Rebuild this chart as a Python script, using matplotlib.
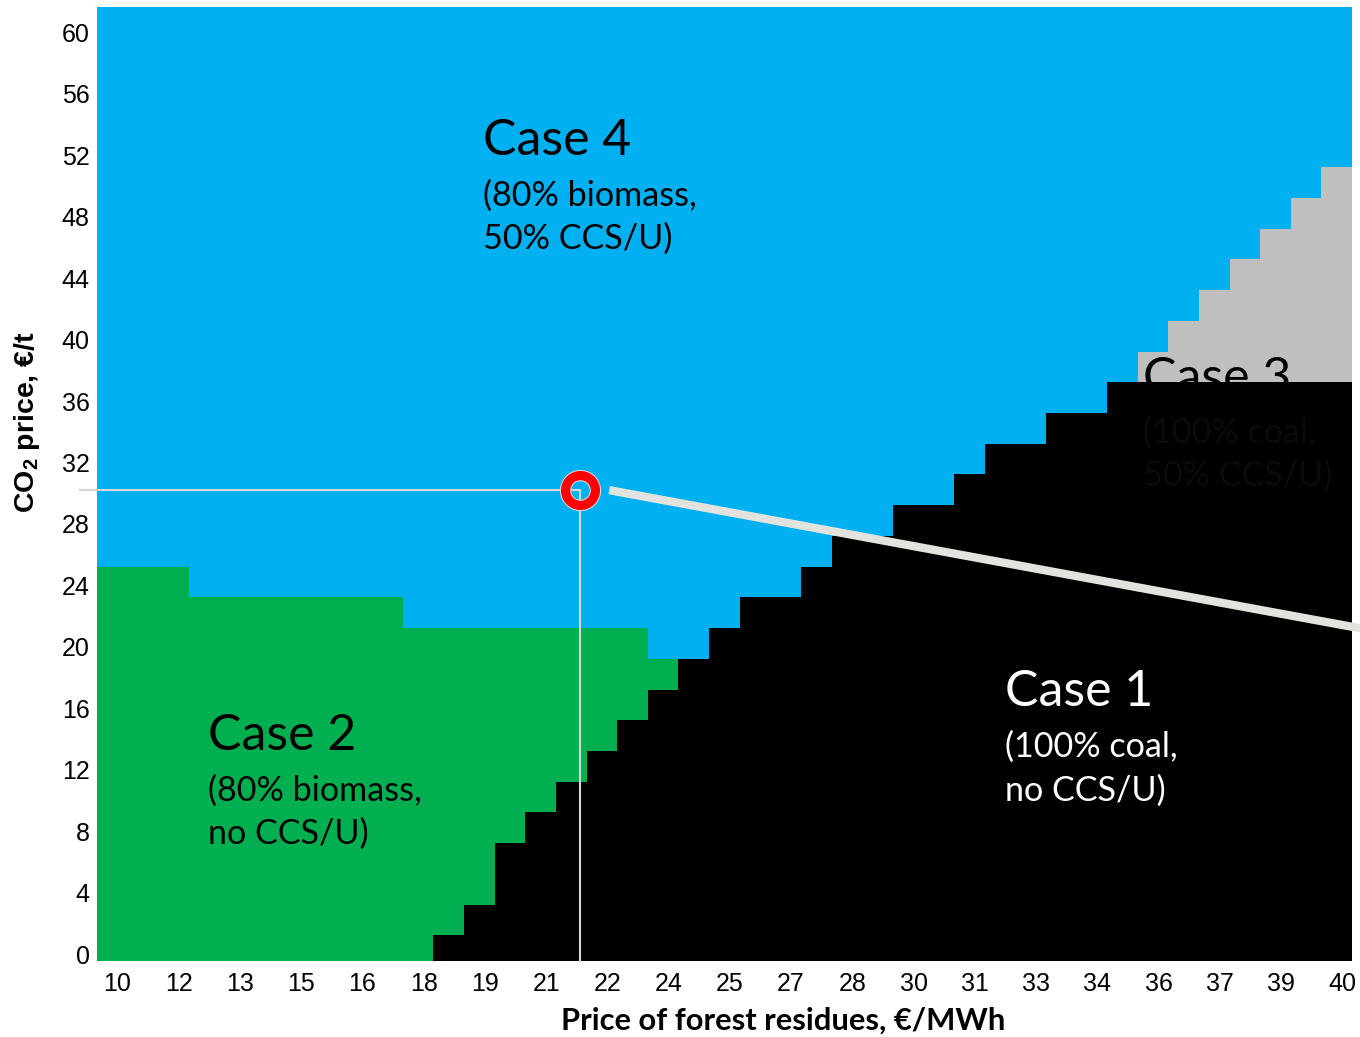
import numpy as np
import matplotlib
matplotlib.use("Agg")
import matplotlib.pyplot as plt
from matplotlib.colors import ListedColormap
from matplotlib.transforms import ScaledTranslation

# price grid of forest residues (EUR/MWh), one column per value
prices = np.linspace(10, 40, 41)
price_ticks = prices[::2]
price_labels = ['10', '12', '13', '15', '16', '18', '19', '21', '22', '24', '25',
                '27', '28', '30', '31', '33', '34', '36', '37', '39', '40']
# CO2 price grid (EUR/t), one row per value
co2 = np.arange(0, 62, 2)
co2_ticks = np.arange(0, 61, 4)

# number of rows (from the bottom) belonging to each case, per column
coal_rows = [0, 0, 0, 0, 0, 0, 0, 0, 0, 0, 0,
             1, 2, 4, 5, 6, 7, 8, 9, 10, 11,
             12, 12, 13, 14, 14, 15, 15, 16, 17, 17,
             18, 18, 19, 19, 19, 19, 19, 19, 19, 19]
biomass_rows = [13, 13, 13, 12, 12, 12, 12, 12, 12, 12,
                11, 11, 11, 11, 11, 11, 11, 11, 10] + [0] * 22
coal_ccs_rows = [0] * 34 + [20, 21, 22, 23, 24, 25, 26]

# current point and the sensitivity line
point_price, point_co2 = 21.47, 30.2
line_price = [22.18, 41.0]
line_co2 = [30.2, 21.0]

blue, green, grey = '#00B0F0', '#00B050', '#BFBFBF'

# build the case matrix: 1 coal, 2 biomass, 3 coal+CCS, 4 biomass+CCS
case = np.full((len(co2), len(prices)), 4)
for j in range(len(prices)):
    case[:coal_ccs_rows[j], j] = 3
    case[:biomass_rows[j], j] = 2
    case[:coal_rows[j], j] = 1

y_bottom, y_top = -0.45, 61.65
x_edges = np.append(prices - 0.375, prices[-1] + 0.375)
y_edges = np.append(co2 - 0.78, y_top)

fig = plt.figure(figsize=(13.6, 10.37), dpi=100)
ax = fig.add_axes([96.7 / 1360, 1 - 961 / 1037, (1352 - 96.7) / 1360, (961 - 7) / 1037])

cmap = ListedColormap(['black', green, grey, blue])
ax.pcolormesh(x_edges, y_edges, case, cmap=cmap, vmin=0.5, vmax=4.5, zorder=1)

# coal layer drawn again on top so it hides the lower part of the Case 3 label
coal_only = np.ma.masked_where(case != 1, case)
ax.pcolormesh(x_edges, y_edges, coal_only, cmap=ListedColormap(['black']),
              vmin=0.5, vmax=1.5, zorder=3)

ax.set_xlim(x_edges[0], x_edges[-1])
ax.set_ylim(y_bottom, y_top)
for s in ax.spines.values():
    s.set_visible(False)

ax.set_xticks(price_ticks)
ax.set_xticklabels(price_labels, fontsize=18, family='Liberation Sans')
ax.set_yticks(co2_ticks)
ax.set_yticklabels([str(v) for v in co2_ticks], fontsize=18, family='Liberation Sans')
ax.tick_params(length=0, pad=5)
ax.tick_params(axis='x', pad=8)
for lab in ax.get_xticklabels():
    lab.set_transform(lab.get_transform() + ScaledTranslation(0.055, 0, fig.dpi_scale_trans))

# guide lines to the current point
ax.plot([9.22, point_price], [point_co2, point_co2], color='#d6d6d6', lw=1.5,
        clip_on=False, zorder=5)
ax.plot([point_price, point_price], [y_bottom, point_co2], color='#d6d6d6', lw=1.5,
        clip_on=False, zorder=5)
ax.plot(line_price, line_co2, color='#e2e2de', lw=6, clip_on=False,
        solid_capstyle='butt', zorder=5)
ax.plot([point_price], [point_co2], 'o', ms=21.5, mfc='none', mec='#d6d6d6', mew=8.2,
        zorder=6)
ax.plot([point_price], [point_co2], 'o', ms=21.5, mfc='none', mec='#ff0000', mew=6.6,
        zorder=7)

def fx(x):
    return x / 1360

def fy(y):
    return 1 - y / 1037

title_kw = dict(fontsize=36, family='Lato', ha='left', va='baseline')
sub_kw = dict(fontsize=24.6, family='Lato', ha='left', va='baseline')

fig.text(fx(483), fy(155), 'Case 4', color='black', **title_kw)
fig.text(fx(483), fy(206), '(80% biomass,', color='black', **sub_kw)
fig.text(fx(483), fy(249), '50% CCS/U)', color='black', **sub_kw)

fig.text(fx(208), fy(750), 'Case 2', color='black', **title_kw)
fig.text(fx(208), fy(801), '(80% biomass,', color='black', **sub_kw)
fig.text(fx(208), fy(844), 'no CCS/U)', color='black', **sub_kw)

fig.text(fx(1005), fy(706), 'Case 1', color='white', **title_kw)
fig.text(fx(1005), fy(757), '(100% coal,', color='white', **sub_kw)
fig.text(fx(1005), fy(801), 'no CCS/U)', color='white', **sub_kw)

ax.text(fx(1143), fy(393), 'Case 3', color='black', transform=fig.transFigure,
        zorder=2, **title_kw)
ax.text(fx(1143), fy(443), '(100% coal,', color='#0b0b0b', transform=fig.transFigure,
        zorder=4, **sub_kw)
ax.text(fx(1143), fy(486), '50% CCS/U)', color='#0b0b0b', transform=fig.transFigure,
        zorder=4, **sub_kw)

plt.rcParams['mathtext.fontset'] = 'custom'
plt.rcParams['mathtext.bf'] = 'Liberation Sans:bold'
plt.rcParams['mathtext.rm'] = 'Liberation Sans:bold'
fig.text(fx(783), fy(1021), 'Price of forest residues, €/MWh', fontsize=22.2,
         family='Lato', weight='bold', ha='center', va='center')
fig.text(fx(27), fy(422), r'CO$_\mathregular{2}$ price, €/t', fontsize=20.5,
         family='Liberation Sans', weight='bold', rotation=90, ha='center', va='center')

fig.savefig('out.png', dpi=100)
